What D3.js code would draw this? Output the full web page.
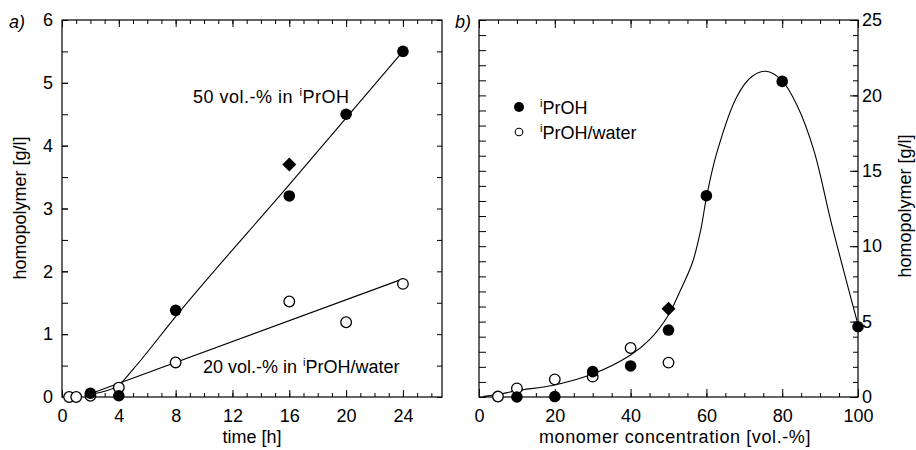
<!DOCTYPE html>
<html>
<head>
<meta charset="utf-8">
<script src="https://cdn.jsdelivr.net/npm/d3@7"></script>
<style>
  body { margin: 0; background: #fff; }
  svg text { font-family: "Liberation Sans", Arial, sans-serif; fill: #000; }
  .axis path { display: none; }
  .axis line { stroke: #000; stroke-width: 1; }
  .axis text { font-size: 18px; }
</style>
</head>
<body>
<svg id="chart"></svg>
<script>
// panel a) homopolymer vs time
const timeIPrOH = [2, 4, 8, 16, 20, 24];
const valIPrOH = [0.06, 0.02, 1.38, 3.2, 4.5, 5.5];
const timeWater = [0.5, 1, 2, 4, 8, 16, 20, 24];
const valWater = [0, 0, 0.02, 0.15, 0.55, 1.52, 1.19, 1.8];
const diamondA = [[16, 3.7]];
// fitted lines
const fitA50 = [[2, 0.04], [3, 0.09], [4, 0.19], [5, 0.44], [8, 1.28], [16, 3.38], [24, 5.5]];
const fitA20 = [[2, 0.05], [24, 1.88]];
const ticksTime = [0, 4, 8, 12, 16, 20, 24];
const ticksA = [0, 1, 2, 3, 4, 5, 6];

// panel b) homopolymer vs monomer concentration
const concIPrOH = [10, 20, 30, 40, 50, 60, 80, 100];
const valBIPrOH = [0, 0.03, 1.68, 2.06, 4.44, 13.35, 20.93, 4.66];
const concWater = [5, 10, 20, 30, 40, 50];
const valBWater = [0.03, 0.57, 1.17, 1.35, 3.25, 2.28];
const diamondB = [[50, 5.86]];
const fitB = [[1, 0.03], [5.3, 0.18], [10, 0.42], [20, 0.8], [30, 1.52], [40, 2.78], [45, 3.8],
  [50, 5.44], [53, 7], [56.3, 8.9], [58.5, 11.07], [60.1, 13.35], [62.7, 16.16], [68, 19.9],
  [72, 21.25], [75.7, 21.6], [79.9, 21.0], [84, 19.3], [88.3, 16.4], [93.1, 11.4], [100, 4.8]];
const ticksConc = [0, 20, 40, 60, 80, 100];
const ticksB = [0, 5, 10, 15, 20, 25];

const W = 916, H = 450;
const FS = '18px';
const svg = d3.select('#chart').attr('width', W).attr('height', H);

const xa = d3.scaleLinear().domain([0, 26.75]).range([62, 442]);
const ya = d3.scaleLinear().domain([0, 6]).range([397, 20]);
const xb = d3.scaleLinear().domain([0, 100]).range([479, 858]);
const yb = d3.scaleLinear().domain([0, 25]).range([397, 20]);

const range = (a, b, s) => d3.range(a, b + s / 2, s);

//draw a set of inward ticks on one side of a box
function ticks(axisFn, scale, values, size, pad, tx, ty) {
  const ax = axisFn(scale).tickValues(values).tickSizeInner(-size).tickSizeOuter(0);
  if (pad) ax.tickPadding(pad).tickFormat(d3.format('d'));
  else ax.tickFormat('');
  svg.append('g').attr('class', 'axis')
    .attr('transform', `translate(${tx},${ty})`)
    .call(ax);
}

//frame and ticks for panel a
ticks(d3.axisBottom, xa, range(0, 26, 1), 4, 0, 0, 397);
ticks(d3.axisBottom, xa, ticksTime, 7, 12, 0, 397);
ticks(d3.axisTop, xa, range(0, 26, 1), 4, 0, 0, 20);
ticks(d3.axisTop, xa, ticksTime, 7, 0, 0, 20);
ticks(d3.axisLeft, ya, range(0, 6, 0.5), 6, 0, 62, 0);
ticks(d3.axisLeft, ya, ticksA, 6, 9, 62, 0);
ticks(d3.axisRight, ya, range(0, 6, 0.5), 5, 0, 442, 0);

//frame and ticks for panel b
ticks(d3.axisBottom, xb, range(0, 100, 5), 4, 0, 0, 397);
ticks(d3.axisBottom, xb, ticksConc, 8, 12, 0, 397);
ticks(d3.axisTop, xb, range(0, 100, 5), 4, 0, 0, 20);
ticks(d3.axisTop, xb, ticksConc, 8, 0, 0, 20);
ticks(d3.axisLeft, yb, range(0, 25, 1), 7, 0, 479, 0);
ticks(d3.axisRight, yb, range(0, 25, 1), 5, 0, 858, 0);
ticks(d3.axisRight, yb, ticksB, 8, 4, 858, 0);

[[xa, ya], [xb, yb]].forEach(([x, y]) => {
  svg.append('rect')
    .attr('x', x.range()[0]).attr('y', y.range()[1])
    .attr('width', x.range()[1] - x.range()[0])
    .attr('height', y.range()[0] - y.range()[1])
    .attr('fill', 'none').attr('stroke', '#000').attr('stroke-width', 1.2);
});

//fit curves
const lineA = d3.line().x(d => xa(d[0])).y(d => ya(d[1])).curve(d3.curveMonotoneX);
const lineB = d3.line().x(d => xb(d[0])).y(d => yb(d[1])).curve(d3.curveCatmullRom.alpha(0.5));
[fitA50, fitA20].forEach(f => svg.append('path').attr('d', lineA(f))
  .attr('fill', 'none').attr('stroke', '#000').attr('stroke-width', 1.1));
svg.append('path').attr('d', lineB(fitB))
  .attr('fill', 'none').attr('stroke', '#000').attr('stroke-width', 1.1);

//markers
function circles(xs, ys, x, y, filled) {
  svg.append('g').selectAll('circle')
    .data(xs.map((d, i) => [d, ys[i]]))
    .join('circle')
      .attr('cx', d => x(d[0]))
      .attr('cy', d => y(d[1]))
      .attr('r', filled ? 5.8 : 5.3)
      .attr('fill', filled ? '#000' : '#fff')
      .attr('stroke', '#000')
      .attr('stroke-width', filled ? 0 : 1.3);
}
const diamond = d3.symbol().type(d3.symbolDiamond2).size(125);
function diamonds(pts, x, y) {
  svg.append('g').selectAll('path')
    .data(pts)
    .join('path')
      .attr('d', diamond)
      .attr('transform', d => `translate(${x(d[0])},${y(d[1])})`)
      .attr('fill', '#000');
}
circles(timeWater, valWater, xa, ya, false);
circles(timeIPrOH, valIPrOH, xa, ya, true);
diamonds(diamondA, xa, ya);
circles(concWater, valBWater, xb, yb, false);
circles(concIPrOH, valBIPrOH, xb, yb, true);
diamonds(diamondB, xb, yb);

//text with a superscript i
function supText(x, y, before, after) {
  const t = svg.append('text').attr('x', x).attr('y', y).style('font-size', FS);
  t.append('tspan').text(before);
  t.append('tspan').text('i').style('font-size', '11px').attr('dy', -7).attr('dx', 1);
  t.append('tspan').text(after).attr('dy', 7);
  return t;
}
supText(193, 103, '50 vol.-% in ', 'PrOH').style('letter-spacing', '0.5px');
supText(203, 373, '20 vol.-% in ', 'PrOH/water');

//legend
svg.append('circle').attr('cx', 519).attr('cy', 107).attr('r', 5).attr('fill', '#000');
svg.append('circle').attr('cx', 519).attr('cy', 132).attr('r', 3.8)
  .attr('fill', '#fff').attr('stroke', '#000').attr('stroke-width', 1.1);
supText(539, 114, '', 'PrOH');
supText(539, 139, '', 'PrOH/water');

//axis titles and panel letters
svg.append('text').attr('x', 252).attr('y', 443).attr('text-anchor', 'middle')
  .style('font-size', FS).text('time [h]');
svg.append('text').attr('x', 675).attr('y', 443).attr('text-anchor', 'middle')
  .style('font-size', FS).style('letter-spacing', '0.6px').text('monomer concentration [vol.-%]');
svg.append('text').attr('transform', 'translate(26,208) rotate(-90)').attr('text-anchor', 'middle')
  .style('font-size', FS).text('homopolymer [g/l]');
svg.append('text').attr('transform', 'translate(911,206) rotate(-90)').attr('text-anchor', 'middle')
  .style('font-size', FS).text('homopolymer [g/l]');
svg.append('text').attr('x', 9).attr('y', 28).style('font-size', FS)
  .style('font-style', 'italic').text('a)');
svg.append('text').attr('x', 455).attr('y', 28).style('font-size', FS)
  .style('font-style', 'italic').text('b)');
</script>
</body>
</html>
